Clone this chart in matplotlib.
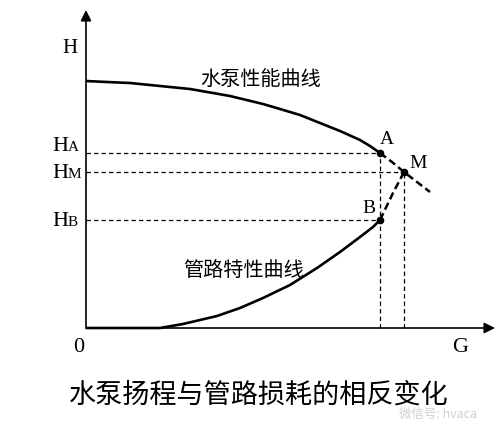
import matplotlib.pyplot as plt

# values (G, H in arbitrary units, origin at 0)
pump_g = [0, 0.21, 0.44, 0.74, 1.04, 1.27, 1.44, 1.77, 1.94, 2.14, 2.34, 2.54, 2.74, 2.84, 2.94]
pump_h = [2.47, 2.46, 2.45, 2.42, 2.39, 2.35, 2.32, 2.24, 2.19, 2.13, 2.05, 1.97, 1.88, 1.82, 1.75]
pump_tail_g = [2.94, 3.06, 3.18, 3.31, 3.44]
pump_tail_h = [1.75, 1.66, 1.56, 1.46, 1.36]

pipe_g = [0, 0.74, 0.97, 1.31, 1.54, 1.77, 2.04, 2.31, 2.54, 2.74, 2.87, 2.94]
pipe_h = [0, 0, 0.04, 0.12, 0.20, 0.30, 0.43, 0.60, 0.76, 0.91, 1.01, 1.08]
pipe_tail_g = [2.94, 3.07, 3.18]
pipe_tail_h = [1.08, 1.35, 1.56]

point_names = ['A', 'M', 'B']
point_g = [2.94, 3.18, 2.94]
point_h = [1.75, 1.56, 1.08]

g_max = 4.09
h_max = 3.18

title = '水泵扬程与管路损耗的相反变化'
pump_label = '水泵性能曲线'
pipe_label = '管路特性曲线'
watermark = '微信号: hvaca'

SERIF = 'Liberation Serif'
CJK = ['Noto Sans CJK SC', 'DejaVu Sans']

fig = plt.figure(figsize=(5, 4.25), dpi=100)
ax = fig.add_axes([0, 0, 1, 1])
ax.set_xlim(-0.86, 4.14)
ax.set_ylim(-0.97, 3.28)
ax.axis('off')

# axes with arrows
ax.annotate('', xy=(g_max, 0), xytext=(0, 0),
            arrowprops=dict(arrowstyle='-|>', color='black', lw=1.2,
                            mutation_scale=16, shrinkA=0, shrinkB=0))
ax.annotate('', xy=(0, h_max), xytext=(0, 0),
            arrowprops=dict(arrowstyle='-|>', color='black', lw=1.2,
                            mutation_scale=16, shrinkA=0, shrinkB=0))

# curves
ax.plot(pump_g, pump_h, color='black', lw=1.9, solid_capstyle='butt',
        solid_joinstyle='round')
ax.plot(pump_tail_g, pump_tail_h, color='black', lw=1.8, dashes=(3, 1.6))
ax.plot(pipe_g, pipe_h, color='black', lw=1.9, solid_capstyle='butt',
        solid_joinstyle='round')
ax.plot(pipe_tail_g, pipe_tail_h, color='black', lw=1.8, dashes=(3, 1.6))

# guide lines
for g, h in zip(point_g, point_h):
    ax.plot([0, g], [h, h], color='black', lw=0.9, dashes=(3.5, 2.5))
for g, h in zip(point_g[:2], point_h[:2]):
    ax.plot([g, g], [0, h], color='black', lw=0.9, dashes=(3.5, 2.5))

ax.plot(point_g, point_h, 'o', color='black', markersize=4.5, zorder=5)

# point letters
offsets = {'A': (0.07, 0.09), 'M': (0.14, 0.04), 'B': (-0.11, 0.07)}
for name, g, h in zip(point_names, point_g, point_h):
    dx, dy = offsets[name]
    ax.text(g + dx, h + dy, name, family=SERIF, fontsize=14,
            ha='center', va='baseline')

# H labels on the axis
for name, h in zip(point_names, point_h):
    y = h + 0.02 if name == 'A' else h - 0.06
    ax.text(-0.18, y, 'H', family=SERIF, fontsize=16, ha='right', va='baseline')
    ax.text(-0.18, y, name, family=SERIF, fontsize=11, ha='left', va='baseline')

ax.text(-0.16, 2.75, 'H', family=SERIF, fontsize=15, ha='center', va='baseline')
ax.text(-0.07, -0.24, '0', family=SERIF, fontsize=16, ha='center', va='baseline')
ax.text(3.74, -0.24, 'G', family=SERIF, fontsize=16, ha='center', va='baseline')

ax.text(1.75, 2.49, pump_label, family=CJK, fontsize=14.5, ha='center', va='center')
ax.text(1.58, 0.58, pipe_label, family=CJK, fontsize=14.5, ha='center', va='center')

ax.text(1.73, -0.67, title, family=CJK, fontsize=19.5, ha='center', va='center',
        zorder=2)
ax.text(3.52, -0.86, watermark, family=CJK, fontsize=9, color='#d0d0d0',
        ha='center', va='center', zorder=1)

plt.savefig('out.png', dpi=100)
